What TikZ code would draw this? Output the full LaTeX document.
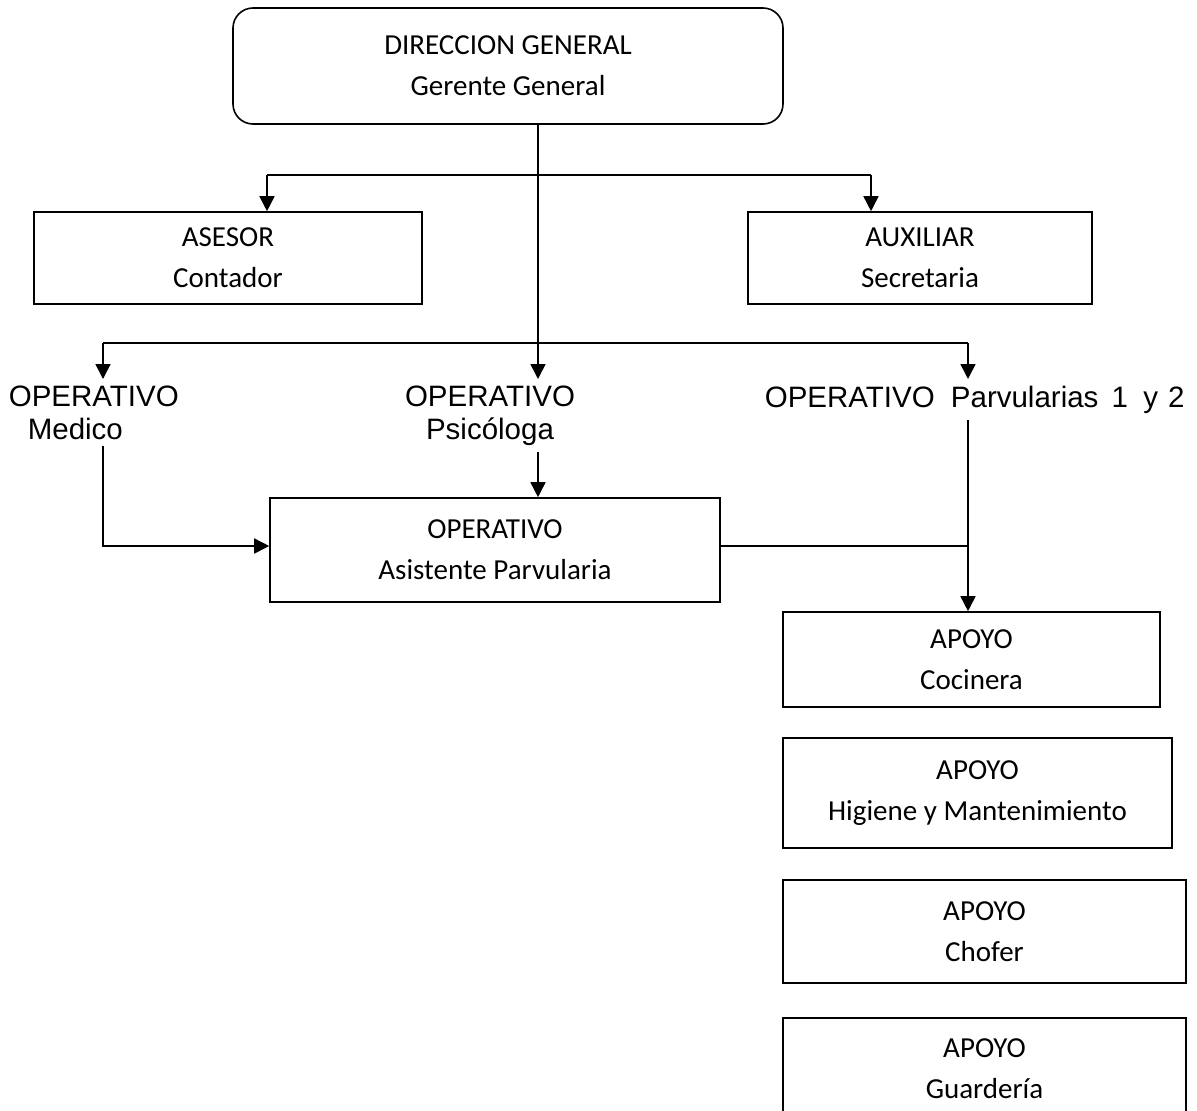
\documentclass[tikz,border=0pt]{standalone}
\usepackage{fontspec}
\setmainfont{Carlito}
\newfontfamily\arialfont{Liberation Sans}
\usepackage{tikz}
\usetikzlibrary{arrows.meta}
\tikzstyle{box}=[rectangle,draw,line width=1.6pt,inner sep=0pt,align=center,font=\fontsize{29}{41}\selectfont]
\tikzstyle{rolebox}=[box,rounded corners=20pt]
\tikzstyle{role}=[inner xsep=0pt,inner ysep=6pt,align=center,font=\arialfont\fontsize{29.5}{33}\selectfont]
\tikzstyle{arr}=[-{Triangle[length=15pt,width=15pt]}]

\begin{document}
\begin{tikzpicture}[x=1pt,y=-1pt,line width=1.6pt]
        \useasboundingbox (0,0) rectangle (1197,1111);
        \node at ( 508,  66) [rolebox,minimum width=550pt,minimum height=116pt] (dir) {DIRECCION GENERAL\\Gerente General};
        \node at ( 228, 258) [box,minimum width=388pt,minimum height=92pt] (ase) {ASESOR\\Contador};
        \node at ( 920, 258) [box,minimum width=344pt,minimum height=92pt] (aux) {AUXILIAR\\Secretaria};
        \node at (   8, 379) [role,anchor=north west,align=left] (med) {OPERATIVO\\\hspace{19pt}Medico};
        \node at ( 490, 379) [role,anchor=north] (psi) {OPERATIVO\\Psicóloga};
        \node at ( 764, 379) [role,anchor=north west] (par) {OPERATIVO\hspace{8pt} Parvularias\hspace{5pt} 1\hspace{7pt} y\hspace{2pt} 2};
        \node at ( 495, 550) [box,minimum width=450pt,minimum height=104pt] (asis) {OPERATIVO\\Asistente Parvularia};
        \node at (971.5,659.5) [box,minimum width=377pt,minimum height=95pt] (coc) {APOYO\\Cocinera};
        \node at (977.5, 793) [box,minimum width=389pt,minimum height=110pt] (hig) {APOYO\\Higiene y Mantenimiento};
        \node at (984.5,931.5) [box,minimum width=403pt,minimum height=103pt] (cho) {APOYO\\Chofer};
        \node at (984.5,1069) [box,minimum width=403pt,minimum height=102pt] (gua) {APOYO\\Guardería};
        % junctions
        \coordinate (trunk) at (538,343);
        \coordinate (tl) at (267,175);
        \coordinate (tr) at (871,175);
        \coordinate (ml) at (103,343);
        \coordinate (mr) at (968,343);
        \coordinate (mc) at (103,546);
        \coordinate (pj) at (968,546);
        \draw [arr] (dir.south -| trunk) to (psi.north -| trunk);
        \draw [arr] (tl) to (ase.north -| tl);
        \draw (tl) to (tr);
        \draw [arr] (tr) to (aux.north -| tr);
        \draw (ml) to (mr);
        \draw [arr] (ml) to (med.north -| ml);
        \draw [arr] (mr) to (par.north -| mr);
        \draw [arr] (psi.south -| trunk) to (asis.north -| trunk);
        \draw [arr] (med.south -| mc) -- (mc) -- (asis.west |- mc);
        \draw [arr] (par.south -| pj) to (coc.north -| pj);
        \draw (asis.east |- pj) to (pj);
      \end{tikzpicture}
\end{document}
